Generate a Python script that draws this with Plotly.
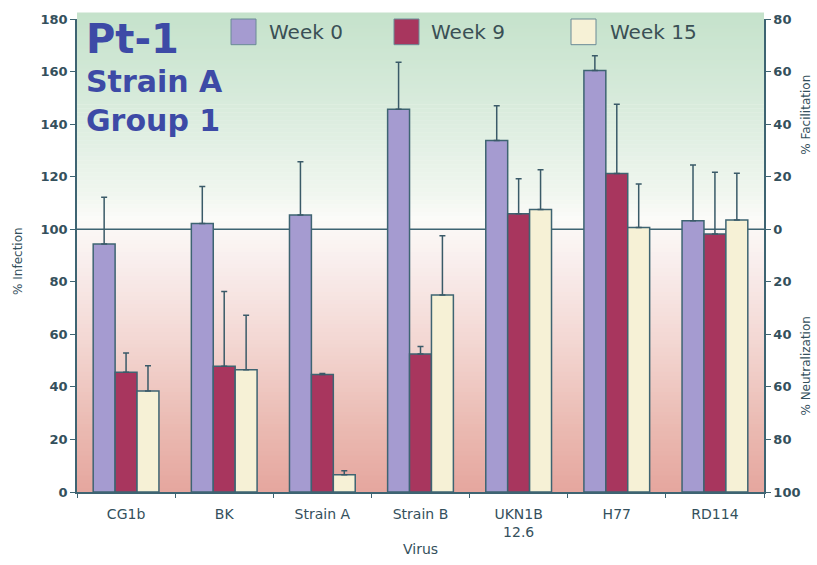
import plotly.graph_objects as go
import numpy as np

# ---- data -------------------------------------------------------------
viruses = ["CG1b", "BK", "Strain A", "Strain B", "UKN1B<br>12.6", "H77", "RD114"]
weeks = ["Week 0", "Week 9", "Week 15"]

week0 = [94.4, 102.2, 105.4, 145.7, 133.8, 160.4, 103.2]
week0_err = [17.8, 14.1, 20.3, 17.8, 13.2, 5.6, 21.2]
week9 = [45.6, 47.9, 44.7, 52.5, 105.9, 121.2, 98.2]
week9_err = [7.3, 28.4, 0.4, 2.9, 13.3, 26.4, 23.5]
week15 = [38.4, 46.5, 6.6, 75.0, 107.5, 100.7, 103.5]
week15_err = [9.6, 20.8, 1.5, 22.5, 15.1, 16.5, 17.8]

left_ticks = list(range(0, 181, 20))
right_ticks = list(range(-100, 81, 20))
right_ticktext = [str(abs(v)) for v in right_ticks]

# ---- style ------------------------------------------------------------
W, H = 817, 565
ML, MR, MT, MB = 77, 53, 13, 73
PW, PH = W - ML - MR, H - MT - MB
FONT = "DejaVu Sans"
AXIS = "#3e6472"
TEXT = "#34505c"
TITLE = "#3d4aa6"
bar_colors = ["#a59bd0", "#a8365e", "#f6f1d6"]
series = [(week0, week0_err), (week9, week9_err), (week15, week15_err)]


def px(x):
    return (x - ML) / PW


def py(y):
    return (H - MB - y) / PH


fig = go.Figure()
for name, (vals, errs), col in zip(weeks, series, bar_colors):
    fig.add_trace(go.Bar(
        x=viruses, y=vals, name=name, showlegend=False,
        marker=dict(color=col, line=dict(color=AXIS, width=1.5)),
        error_y=dict(type="data", array=errs, arrayminus=[0] * len(errs),
                     symmetric=False, color="#3a5a68", thickness=1.5, width=3),
    ))

# invisible trace to carry the right-hand axis
fig.add_trace(go.Scatter(x=[viruses[0]], y=[0], yaxis="y2", mode="markers",
                         marker=dict(opacity=0), showlegend=False, hoverinfo="skip"))

# ---- gradient background (green at top, white near 100, salmon at bottom)
stops_py = [7, 100, 190, 215, 260, 350, 420, 492]
stops_rgb = [(197, 226, 203), (216, 235, 220), (240, 246, 239), (251, 251, 248),
             (249, 238, 237), (242, 212, 207), (235, 188, 180), (229, 166, 158)]
shapes = []
n = 120
edges = np.linspace(7, 492, n + 1)
for i in range(n):
    mid = 0.5 * (edges[i] + edges[i + 1])
    rgb = [int(round(np.interp(mid, stops_py, [c[k] for c in stops_rgb]))) for k in range(3)]
    shapes.append(dict(type="rect", xref="paper", yref="paper", x0=0, x1=1,
                       y0=py(edges[i + 1]), y1=py(edges[i]) + 0.001,
                       fillcolor=f"rgb({rgb[0]},{rgb[1]},{rgb[2]})",
                       line=dict(width=0), layer="below"))

# reference line at 100 % infection
shapes.append(dict(type="line", xref="paper", yref="y", x0=0, x1=1, y0=100, y1=100,
                   line=dict(color=AXIS, width=1.5), layer="below"))

# legend swatches
legend_items = [(231, 267, "Week 0"), (394, 429, "Week 9"), (571, 608, "Week 15")]
annotations = []
for (sx, tx, label), col in zip(legend_items, bar_colors):
    shapes.append(dict(type="rect", xref="paper", yref="paper",
                       x0=px(sx), x1=px(sx + 25), y0=py(39), y1=py(13),
                       fillcolor=col, line=dict(color="#6a8a96", width=1)))
    annotations.append(dict(xref="paper", yref="paper", x=px(tx), y=py(26),
                            xanchor="left", yanchor="middle", showarrow=False,
                            text=label, font=dict(family=FONT, size=20, color="#3a5055")))

# titles in the upper-left corner
for text, y, size in [("Pt-1", 33, 40), ("Strain A", 76, 30), ("Group 1", 116, 30)]:
    annotations.append(dict(xref="paper", yref="paper", x=px(84), y=py(y),
                            xanchor="left", yanchor="middle", showarrow=False,
                            text=f"<b>{text}</b>",
                            font=dict(family=FONT, size=size, color=TITLE)))

# axis titles
annotations += [
    dict(xref="paper", yref="paper", x=px(18), y=py(258), textangle=-90,
         xanchor="center", yanchor="middle", showarrow=False, text="% Infection",
         font=dict(family=FONT, size=12, color=TEXT)),
    dict(xref="paper", yref="paper", x=px(806), y=py(110), textangle=-90,
         xanchor="center", yanchor="middle", showarrow=False, text="% Facilitation",
         font=dict(family=FONT, size=12, color=TEXT)),
    dict(xref="paper", yref="paper", x=px(806), y=py(365), textangle=-90,
         xanchor="center", yanchor="middle", showarrow=False, text="% Neutralization",
         font=dict(family=FONT, size=12, color=TEXT)),
    dict(xref="paper", yref="paper", x=px(420), y=py(550),
         xanchor="center", yanchor="middle", showarrow=False, text="Virus",
         font=dict(family=FONT, size=14, color=TEXT)),
]

fig.update_layout(
    width=W, height=H,
    margin=dict(l=ML, r=MR, t=MT, b=MB),
    paper_bgcolor="white", plot_bgcolor="white",
    barmode="group", bargap=0.33, bargroupgap=0,
    shapes=shapes, annotations=annotations,
    xaxis=dict(type="category", showline=True, linecolor=AXIS, linewidth=1.5,
               ticks="outside", tickson="boundaries", ticklen=4, tickcolor=AXIS,
               ticklabelstandoff=8, showgrid=False,
               tickfont=dict(family=FONT, size=14, color=TEXT)),
    yaxis=dict(range=[0, 180], tickvals=left_ticks, showline=True, linecolor=AXIS,
               linewidth=1.5, ticks="outside", ticklen=5, tickcolor=AXIS,
               showgrid=False, zeroline=False,
               tickfont=dict(family=FONT, size=13, color=TEXT, weight="bold")),
    yaxis2=dict(range=[-100, 80], overlaying="y", side="right",
                tickvals=right_ticks, ticktext=right_ticktext,
                showline=True, linecolor=AXIS, linewidth=1.5, ticks="outside",
                ticklen=5, tickcolor=AXIS, showgrid=False, zeroline=False,
                tickfont=dict(family=FONT, size=13, color=TEXT, weight="bold")),
)

fig.write_html("out.html")
